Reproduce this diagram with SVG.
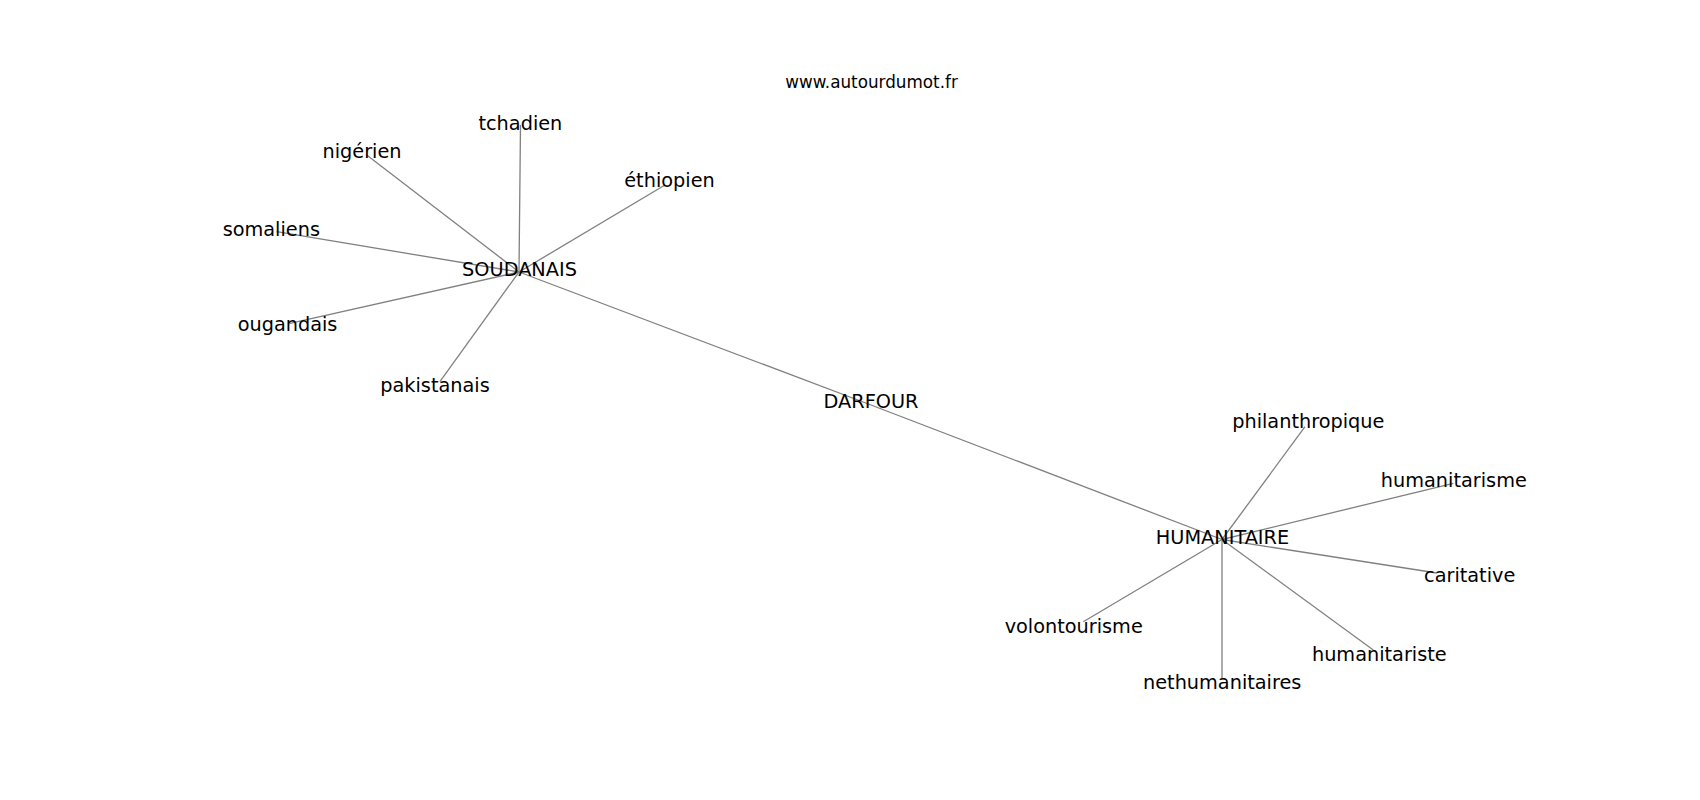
<svg xmlns="http://www.w3.org/2000/svg" width="1700" height="800" viewBox="0 0 1700 800">
<style>
.edge{stroke:#808080;stroke-width:1.3;fill:none}
.lbl{font-family:"DejaVu Sans",sans-serif;font-size:19.3px;fill:#000;text-anchor:middle}
.title{font-family:"DejaVu Sans",sans-serif;font-size:16.8px;fill:#000;text-anchor:middle}
</style>
<rect width="1700" height="800" fill="#fff"/>
<text class="title" x="871.5" y="88.3">www.autourdumot.fr</text>
<g id="connectors">
<line class="edge" x1="519" y1="272" x2="871" y2="405"/>
<line class="edge" x1="871" y1="405" x2="1222" y2="539.5"/>
<line class="edge" x1="519" y1="272" x2="520.5" y2="125"/>
<line class="edge" x1="519" y1="272" x2="366.7" y2="155"/>
<line class="edge" x1="519" y1="272" x2="665" y2="185"/>
<line class="edge" x1="519" y1="272" x2="276.7" y2="231.7"/>
<line class="edge" x1="519" y1="272" x2="290" y2="323.3"/>
<line class="edge" x1="519" y1="272" x2="439.9" y2="381.7"/>
<line class="edge" x1="1222" y1="539.5" x2="1305" y2="426.7"/>
<line class="edge" x1="1222" y1="539.5" x2="1453.3" y2="483.3"/>
<line class="edge" x1="1222" y1="539.5" x2="1437" y2="573"/>
<line class="edge" x1="1222" y1="539.5" x2="1373.3" y2="650"/>
<line class="edge" x1="1222" y1="539.5" x2="1222" y2="679"/>
<line class="edge" x1="1222" y1="539.5" x2="1083.3" y2="621.7"/>
</g>
<g id="node-soudanais"><text class="lbl" x="519.5" y="276">SOUDANAIS</text></g>
<g id="node-darfour"><text class="lbl" x="871" y="408.3">DARFOUR</text></g>
<g id="node-humanitaire"><text class="lbl" x="1222.5" y="543.5">HUMANITAIRE</text></g>
<g id="node-tchadien"><text class="lbl" x="520.4" y="130">tchadien</text></g>
<g id="node-nigerien"><text class="lbl" x="362" y="158">nigérien</text></g>
<g id="node-ethiopien"><text class="lbl" x="669.5" y="186.7">éthiopien</text></g>
<g id="node-somaliens"><text class="lbl" x="271.3" y="235.7">somaliens</text></g>
<g id="node-ougandais"><text class="lbl" x="287.5" y="331">ougandais</text></g>
<g id="node-pakistanais"><text class="lbl" x="435" y="391.7">pakistanais</text></g>
<g id="node-philanthropique"><text class="lbl" x="1308.3" y="427.7">philanthropique</text></g>
<g id="node-humanitarisme"><text class="lbl" x="1453.8" y="486.7">humanitarisme</text></g>
<g id="node-caritative"><text class="lbl" x="1469.7" y="582.3">caritative</text></g>
<g id="node-humanitariste"><text class="lbl" x="1379.3" y="660.7">humanitariste</text></g>
<g id="node-nethumanitaires"><text class="lbl" x="1222.2" y="689.3">nethumanitaires</text></g>
<g id="node-volontourisme"><text class="lbl" x="1073.7" y="632.7">volontourisme</text></g>
</svg>
